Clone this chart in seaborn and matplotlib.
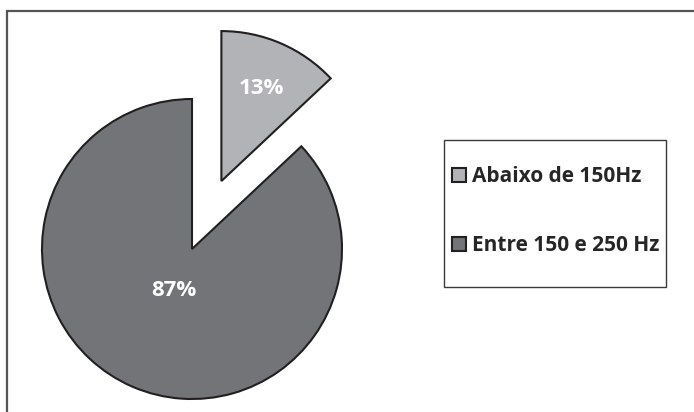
import numpy as np
import matplotlib
matplotlib.use("Agg")
import matplotlib.pyplot as plt
import seaborn as sns
from matplotlib.patches import Rectangle

# ================= DADOS =================
categorias = ["Abaixo de 150Hz", "Entre 150 e 250 Hz"]
valores = [13, 87]
cores = ["#b2b3b6", "#737478"]

# ================= ESTILO =================
sns.set_theme(style="white")
FONTE = ["Open Sans", "DejaVu Sans"]
plt.rcParams["font.family"] = FONTE

W, H = 694, 412
fig = plt.figure(figsize=(W / 100, H / 100), dpi=100)
ax = fig.add_axes([0, 0, 1, 1])

# pizza em coordenadas de pixel (y para cima)
centro = (192, H - 249)
raio = 150
explode = [74, 0]

wedges, textos, autotextos = ax.pie(
    valores, colors=cores, explode=explode, center=centro, radius=raio,
    startangle=90, counterclock=False, autopct="%1.0f%%", pctdistance=0.67,
    wedgeprops=dict(edgecolor="#231f20", linewidth=1.5),
    textprops=dict(color="white", fontsize=16, fontweight="bold"),
)

# rótulo da fatia maior fica mais perto do centro
w = wedges[1]
tm = np.deg2rad((w.theta1 + w.theta2) / 2)
autotextos[1].set_position((w.center[0] + 0.3 * raio * np.cos(tm),
                            w.center[1] + 0.3 * raio * np.sin(tm)))

ax.set_xlim(0, W)
ax.set_ylim(0, H)
ax.set_aspect("equal")
ax.axis("off")

# caixa da legenda desenhada à parte
ax.add_patch(Rectangle((444, H - 287), 222, 147, fill=False,
                       edgecolor="#3a3a3a", linewidth=1.0, zorder=3))

leg = ax.legend(
    wedges, categorias, loc="center left", bbox_to_anchor=(446, H - 211),
    bbox_transform=ax.transData, borderaxespad=0,
    prop=dict(family=FONTE, weight="bold", size=15),
    handlelength=0.65, handleheight=0.65, handletextpad=0.3,
    labelspacing=2.3, borderpad=0.3, frameon=False,
)
for h in leg.legend_handles:
    h.set_edgecolor("#231f20")
    h.set_linewidth(1.5)

# moldura externa (só topo e esquerda visíveis)
fig.add_artist(Rectangle((7 / W, -0.2), 1.2, 1.2 - 11 / H, transform=fig.transFigure,
                         fill=False, edgecolor="#555555", linewidth=1.6))

fig.savefig("out.png", dpi=100)
